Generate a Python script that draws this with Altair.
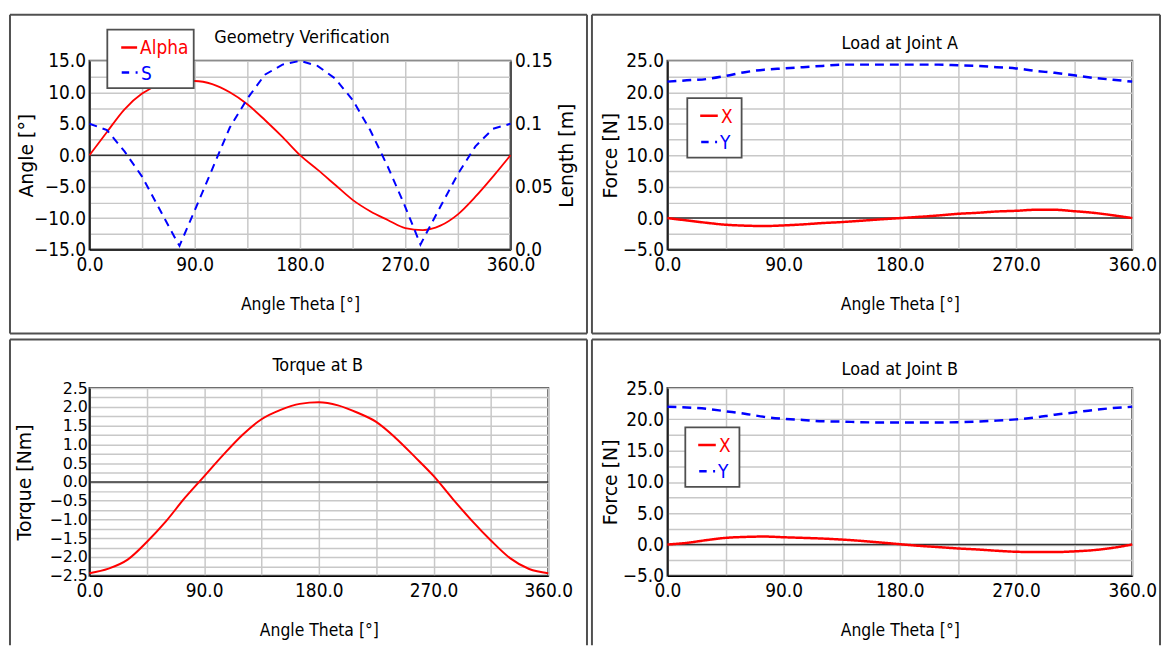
import altair as alt
import pandas as pd

# ---------------- data ----------------
theta = list(range(0, 361, 15))

alpha = [0, 3.7, 7.3, 9.8, 11.2, 11.7, 11.8, 11.3, 10.0, 8.1, 5.6, 2.9, 0,
         -2.3, -4.7, -7.1, -8.9, -10.3, -11.6, -11.9, -11.2, -9.4, -6.6, -3.4, 0]

theta_s = [0, 15, 30, 45, 60, 75, 77, 90, 105, 120, 135, 150, 165, 180,
           195, 210, 225, 240, 255, 270, 283, 300, 315, 330, 345, 360]
s_len = [0.100, 0.095, 0.078, 0.058, 0.032, 0.006, 0.003, 0.031, 0.064, 0.097,
         0.120, 0.139, 0.147, 0.150, 0.146, 0.136, 0.119, 0.095, 0.066, 0.034,
         0.004, 0.034, 0.060, 0.082, 0.096, 0.100]

torque = [-2.43, -2.31, -2.07, -1.60, -1.05, -0.42, 0.15, 0.72, 1.25, 1.67, 1.92,
          2.08, 2.12, 2.04, 1.85, 1.60, 1.18, 0.68, 0.16, -0.45, -1.03, -1.56,
          -2.03, -2.32, -2.43]

ja_x = [0, -0.37, -0.74, -1.05, -1.2, -1.26, -1.16, -1.0, -0.79, -0.63, -0.42,
        -0.2, 0, 0.2, 0.42, 0.68, 0.84, 1.05, 1.16, 1.32, 1.32, 1.1, 0.84, 0.45, 0]
ja_y = [21.7, 21.9, 22.1, 22.6, 23.2, 23.6, 23.8, 24.0, 24.2, 24.4, 24.4, 24.4,
        24.4, 24.4, 24.4, 24.3, 24.2, 24.0, 23.8, 23.4, 23.1, 22.7, 22.3, 22.0, 21.7]

jb_x = [0, 0.26, 0.69, 1.06, 1.21, 1.27, 1.16, 1.06, 0.95, 0.79, 0.58, 0.32,
        0.05, -0.21, -0.42, -0.63, -0.79, -1.0, -1.16, -1.21, -1.21, -1.1,
        -0.9, -0.53, 0]
jb_y = [22.0, 21.9, 21.7, 21.3, 20.9, 20.4, 20.1, 19.9, 19.7, 19.65, 19.55,
        19.5, 19.5, 19.5, 19.5, 19.55, 19.65, 19.8, 20.0, 20.3, 20.75, 21.1,
        21.5, 21.8, 22.0]

x_ticks = [0, 45, 90, 135, 180, 225, 270, 315, 360]
force_ticks = [-5, -2.5, 0, 2.5, 5, 7.5, 10, 12.5, 15, 17.5, 20, 22.5, 25]
angle_ticks = [-15, -12.5, -10, -7.5, -5, -2.5, 0, 2.5, 5, 7.5, 10, 12.5, 15]
torque_ticks = [-2.5, -2.25, -2.0, -1.75, -1.5, -1.25, -1.0, -0.75, -0.5, -0.25, 0,
                0.25, 0.5, 0.75, 1.0, 1.25, 1.5, 1.75, 2.0, 2.25, 2.5]
len_ticks = [0, 0.025, 0.05, 0.075, 0.1, 0.125, 0.15]

# ---------------- styles ----------------
NARROW = "DejaVu Sans Condensed, Liberation Sans Narrow, Liberation Sans, sans-serif"
WIDE = "DejaVu Sans, sans-serif"
RED = "#ff0000"
BLUE = "#0000ff"
GRID = "#c8c8c8"
FRAME = "#505050"
LBL = 19
ONE = pd.DataFrame({"k": [0]})


def x_enc(width):
    return alt.X(
        "theta:Q",
        scale=alt.Scale(domain=[0, 360], nice=False, zero=False),
        axis=alt.Axis(
            values=x_ticks,
            labelExpr="datum.value % 90 == 0 ? format(datum.value, '.1f') : ''",
            title="Angle Theta [°]", titleFont=NARROW, titleFontSize=17.5,
            titleFontWeight="normal", titleColor="black", titleY=60,
            titleBaseline="alphabetic", titleX=width / 2, titleAlign="center",
            labelFont=NARROW, labelFontSize=LBL, labelColor="black",
            labelBaseline="middle", labelPadding=15, labelFlush=False,
            labelOverlap=False, ticks=False, tickSize=0,
            domainColor="black", domainWidth=1.5,
            grid=True, gridColor=GRID, gridWidth=1.5,
        ),
    )


def y_axis(title, ticks, expr, title_x, height, label_font=NARROW, label_size=LBL,
           label_pad=4):
    return alt.Axis(
        values=ticks, labelExpr=expr, title=title, titleFont=WIDE,
        titleFontSize=19, titleFontWeight="normal", titleColor="black",
        titleAngle=270, titleX=title_x, titleY=height / 2,
        titleBaseline="middle", titleAlign="center",
        labelFont=label_font, labelFontSize=label_size, labelColor="black",
        labelPadding=label_pad, labelOverlap=False, labelFlush=False,
        ticks=False, tickSize=0, domainColor="black", domainWidth=1.5,
        grid=True, gridColor=GRID, gridWidth=1.5,
    )


def frame(x1, x2, y1, y2, bottom=True):
    segs = [(x1, x2, y1, y1), (x1, x1, y1, y2), (x2, x2, y1, y2)]
    if bottom:
        segs.append((x1, x2, y2, y2))
    return [
        alt.Chart(ONE).mark_rule(color=FRAME, strokeWidth=2).encode(
            x=alt.value(a), x2=alt.value(b), y=alt.value(c), y2=alt.value(d))
        for a, b, c, d in segs
    ]


def title_text(txt, x, y):
    return alt.Chart(ONE).mark_text(
        text=txt, font=NARROW, fontSize=18, color="black", align="center",
        baseline="alphabetic").encode(x=alt.value(x), y=alt.value(y))


def legend(box, rows):
    bx1, bx2, by1, by2 = box
    layers = [alt.Chart(ONE).mark_rect(fill="white", stroke=FRAME, strokeWidth=1.8).encode(
        x=alt.value(bx1), x2=alt.value(bx2), y=alt.value(by1), y2=alt.value(by2))]
    for label, color, dash, sx1, sx2, sy, tx in rows:
        layers.append(alt.Chart(ONE).mark_rule(color=color, strokeWidth=2.5, strokeDash=dash).encode(
            x=alt.value(sx1), x2=alt.value(sx2), y=alt.value(sy), y2=alt.value(sy)))
        layers.append(alt.Chart(ONE).mark_text(
            text=label, font=NARROW, fontSize=19, color=color, align="left",
            baseline="middle").encode(x=alt.value(tx), y=alt.value(sy + 1)))
    return layers


SOLID = [1, 0]
DASHDOT = [7.5, 6.5, 2, 30]

# ---------------- top-left: Geometry Verification ----------------
W1, H1 = 424, 190
df_alpha = pd.DataFrame({"theta": theta, "value": alpha})
df_s = pd.DataFrame({"theta": theta_s, "value": s_len})

alpha_scale = alt.Scale(domain=[-15, 15], nice=False, zero=False)
alpha_axis = y_axis("Angle [°]", angle_ticks,
                    "datum.value % 5 == 0 ? format(datum.value, '.1f') : ''", -63.5, H1)

zero_tl = alt.Chart(ONE).mark_rule(color="#333333", strokeWidth=1.5).encode(
    y=alt.YDatum(0, scale=alpha_scale, axis=alpha_axis))
alpha_line = alt.Chart(df_alpha).mark_line(color=RED, strokeWidth=1.8, interpolate="monotone").encode(
    x=x_enc(W1), y=alt.Y("value:Q", scale=alpha_scale, axis=alpha_axis))

left_tl = alt.layer(
    *frame(-80, 501, -46.5, 274.5),
    title_text("Geometry Verification", 214, -17.5),
    zero_tl, alpha_line,
    *legend((18, 105, -31.5, 27.5),
            [("Alpha", RED, SOLID, 32, 48, -13.5, 51),
             ("S", BLUE, DASHDOT, 32.5, 49, 11.8, 52)]),
)

len_axis = alt.Axis(
    values=len_ticks, orient="right",
    labelExpr="abs(round(datum.value * 40)) % 2 == 0 ? (datum.value == 0 ? '0.0' : format(datum.value, '.2~f')) : ''",
    title="Length [m]", titleFont=WIDE, titleFontSize=19, titleFontWeight="normal",
    titleColor="black", titleAngle=270, titleX=56.5, titleY=H1 / 2,
    titleBaseline="middle", titleAlign="center",
    labelFont=NARROW, labelFontSize=LBL, labelColor="black", labelPadding=4,
    labelOverlap=False, labelFlush=False, ticks=False, tickSize=0,
    domainColor=FRAME, domainWidth=2, grid=False,
)
s_line = alt.Chart(df_s).mark_line(color=BLUE, strokeWidth=2, strokeDash=[8, 6]).encode(
    x=x_enc(W1),
    y=alt.Y("value:Q", scale=alt.Scale(domain=[0, 0.15], nice=False, zero=False), axis=len_axis),
)

tl = alt.layer(left_tl, s_line).resolve_scale(y="independent").properties(width=W1, height=H1)

# ---------------- load charts ----------------
W2, H2 = 468, 190
force_expr = "datum.value % 5 == 0 ? format(datum.value, '.1f') : ''"
BOT = 259  # bottom end of the lower panels' side borders (relative to plot top)


def load_chart(title, xs, ys, height, fr, title_y, box, rows):
    df = pd.DataFrame({
        "theta": theta + theta,
        "value": xs + ys,
        "series": ["X"] * len(theta) + ["Y"] * len(theta),
    })
    sc = alt.Scale(domain=[-5, 25], nice=False, zero=False)
    ax = y_axis("Force [N]", force_ticks, force_expr, -57, height)
    zero = alt.Chart(ONE).mark_rule(color="#333333", strokeWidth=1.5).encode(
        y=alt.YDatum(0, scale=sc, axis=ax))
    lines = alt.Chart(df).mark_line(strokeWidth=2.5, interpolate="monotone").encode(
        x=x_enc(W2),
        y=alt.Y("value:Q", scale=sc, axis=ax),
        color=alt.Color("series:N", scale=alt.Scale(domain=["X", "Y"], range=[RED, BLUE]), legend=None),
        strokeDash=alt.StrokeDash("series:N", scale=alt.Scale(domain=["X", "Y"], range=[[1, 0], [9, 6]]), legend=None),
        detail="series:N",
    )
    return alt.layer(
        *fr, title_text(title, W2 / 2, title_y), zero, lines, *legend(box, rows)
    ).properties(width=W2, height=height)


tr = load_chart(
    "Load at Joint A", ja_x, ja_y, H2, frame(-76, 496, -46.5, 274.5), -11.5,
    (20, 74.7, 37.5, 97.5),
    [("X", RED, SOLID, 33, 50.7, 55.2, 54), ("Y", BLUE, DASHDOT, 34, 50.5, 81.8, 53)],
)

H3 = 189
W3 = 462
br = load_chart(
    "Load at Joint B", jb_x, jb_y, H3, frame(-76, 496, -49, BOT, bottom=False), -13,
    (18, 72.5, 39.5, 99.5),
    [("X", RED, SOLID, 31, 48.7, 57.2, 52), ("Y", BLUE, DASHDOT, 32, 48.5, 83.8, 51)],
)

# ---------------- bottom-left: Torque at B ----------------
df_t = pd.DataFrame({"theta": theta, "value": torque})
t_scale = alt.Scale(domain=[-2.5, 2.5], nice=False, zero=False)
t_axis = y_axis("Torque [Nm]", torque_ticks,
                "round(datum.value * 4) % 2 == 0 ? format(datum.value, '.1f') : ''",
                -65.3, H3, label_font=WIDE, label_size=16, label_pad=2)
zero_bl = alt.Chart(ONE).mark_rule(color="#333333", strokeWidth=1.5).encode(
    y=alt.YDatum(0, scale=t_scale, axis=t_axis))
t_line = alt.Chart(df_t).mark_line(color=RED, strokeWidth=2, interpolate="monotone").encode(
    x=x_enc(W3), y=alt.Y("value:Q", scale=t_scale, axis=t_axis))
bl = alt.layer(
    *frame(-80, 501, -49, BOT, bottom=False),
    title_text("Torque at B", 230, -17),
    zero_bl, t_line,
).properties(width=W3, height=H3)

# ---------------- assemble ----------------
chart = alt.concat(
    tl, tr, bl, br,
    columns=2,
    bounds="flush",
    spacing={"row": 139.5, "column": 120},
).properties(
    padding={"left": 0, "top": 2, "right": 0, "bottom": 0},
    background="white",
).configure_view(stroke=FRAME, strokeWidth=2)

chart.save("out.html", embed_options={"renderer": "svg", "actions": False})
